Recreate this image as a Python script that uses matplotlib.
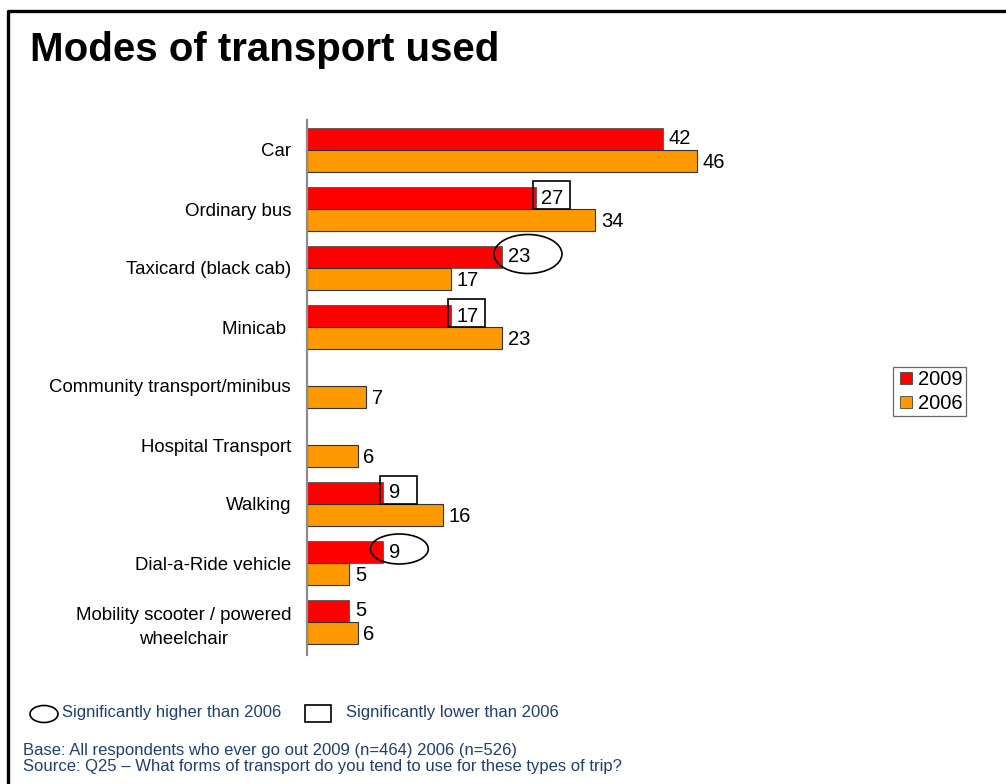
import matplotlib
matplotlib.use("Agg")
import matplotlib.pyplot as plt
from matplotlib.patches import Ellipse, Rectangle
from matplotlib.lines import Line2D
import numpy as np

plt.rcParams['font.family'] = ['Liberation Sans', 'DejaVu Sans']

# Survey results (% of respondents), top to bottom
categories = ['Car', 'Ordinary bus', 'Taxicard (black cab)', 'Minicab ',
              'Community transport/minibus', 'Hospital Transport', 'Walking',
              'Dial-a-Ride vehicle', 'Mobility scooter / powered\nwheelchair']
vals_2009 = [42, 27, 23, 17, None, None, 9, 9, 5]
vals_2006 = [46, 34, 17, 23, 7, 6, 16, 5, 6]
# significance of the 2009 figure versus 2006
significance = [None, 'lower', 'higher', 'lower', None, None, 'lower', 'higher', None]

RED = '#FF0000'
ORANGE = '#FF9900'
NAVY = '#1F3F6F'

W, H = 1006, 784
fig = plt.figure(figsize=(W / 100, H / 100), dpi=100)

# axes placed in pixel terms: zero line at x=307, plot band y=120..655
x0, x1 = 307, 900
y_top, y_bot = 120, 655
ax = fig.add_axes([x0 / W, 1 - y_bot / H, (x1 - x0) / W, (y_bot - y_top) / H])
px_x = 8.476           # pixels per percentage point
group_px = 59.0        # pixels between category groups
xmax = (x1 - x0) / px_x
ax.set_xlim(0, xmax)
top = -(150 - y_top) / group_px
ax.set_ylim(top + (y_bot - y_top) / group_px, top)

bar_h = 22 / group_px
off = 11 / group_px
idx = np.arange(len(categories))

for i in idx:
    v9, v6 = vals_2009[i], vals_2006[i]
    if v9 is not None:
        ax.barh(i - off, v9, height=bar_h, color=RED, edgecolor='#555555', linewidth=0.6)
        ax.annotate(str(v9), (v9, i - off), xytext=(4, 0), textcoords='offset points',
                    va='center', ha='left', fontsize=14.5)
    ax.barh(i + off, v6, height=bar_h, color=ORANGE, edgecolor='#333333', linewidth=0.8)
    ax.annotate(str(v6), (v6, i + off), xytext=(4, -1), textcoords='offset points',
                va='center', ha='left', fontsize=14.5)

    # significance markers around the 2009 label
    sig = significance[i]
    if sig == 'lower':
        rw, rh = 37 / px_x, 28 / group_px
        ax.add_patch(Rectangle((v9 - 3 / px_x, i - off - 17 / group_px), rw, rh,
                               fill=False, edgecolor='black', linewidth=1.2, zorder=4))
    elif sig == 'higher':
        nd = len(str(v9))
        ew = (48 + 10 * nd) / px_x
        eh = (21 + 9 * nd) / group_px
        ax.add_patch(Ellipse((v9 + (6 + 10 * nd) / px_x, i - off - 3 / group_px), ew, eh,
                             fill=False, edgecolor='black', linewidth=1.2, zorder=4))

ax.set_yticks(idx)
ax.set_yticklabels(categories, fontsize=13.4, multialignment='center', linespacing=1.5)
ax.tick_params(axis='y', length=0, pad=11.5)
ax.set_xticks([])
for s in ['top', 'right', 'bottom']:
    ax.spines[s].set_visible(False)
ax.spines['left'].set_color('#8c8c8c')
ax.spines['left'].set_linewidth(1.6)

# year legend
h9 = Line2D([], [], marker='s', linestyle='', markersize=8, markerfacecolor=RED,
            markeredgecolor='#444444', markeredgewidth=0.6)
h6 = Line2D([], [], marker='s', linestyle='', markersize=8, markerfacecolor=ORANGE,
            markeredgecolor='#444444', markeredgewidth=0.6)
leg = fig.legend([h9, h6], ['2009', '2006'], loc='upper left',
                 bbox_to_anchor=(893 / W, 1 - 367 / H), fontsize=14.5, frameon=True,
                 fancybox=False, edgecolor='#444444', borderpad=0.15,
                 handletextpad=0.1, handlelength=1.0, labelspacing=0.25,
                 borderaxespad=0)
leg.get_frame().set_linewidth(0.9)

# title
fig.text(30 / W, 1 - 50 / H, 'Modes of transport used', fontsize=29, fontweight='bold',
         va='center', ha='left')

# key for significance markers
fig.add_artist(Ellipse((44 / W, 1 - 714 / H), 28 / W, 17 / H, transform=fig.transFigure,
                       fill=False, edgecolor='black', linewidth=1.2))
fig.text(62 / W, 1 - 713 / H, 'Significantly higher than 2006', fontsize=12,
         color=NAVY, va='center')
fig.add_artist(Rectangle((305 / W, 1 - 722 / H), 26 / W, 17 / H, transform=fig.transFigure,
                         fill=False, edgecolor='black', linewidth=1.2))
fig.text(346 / W, 1 - 713 / H, 'Significantly lower than 2006', fontsize=12,
         color=NAVY, va='center')

fig.text(23 / W, 1 - 750 / H, 'Base: All respondents who ever go out 2009 (n=464) 2006 (n=526)',
         fontsize=12, color=NAVY, va='center')
fig.text(23 / W, 1 - 767 / H,
         'Source: Q25 \u2013 What forms of transport do you tend to use for these types of trip?',
         fontsize=12, color=NAVY, va='center')

# slide frame on the left and top
fig.add_artist(Line2D([8 / W, 8 / W, 1.0], [0.0, 1 - 11 / H, 1 - 11 / H],
                      transform=fig.transFigure, color='black', linewidth=2.4))

fig.savefig('out.png', dpi=100)
